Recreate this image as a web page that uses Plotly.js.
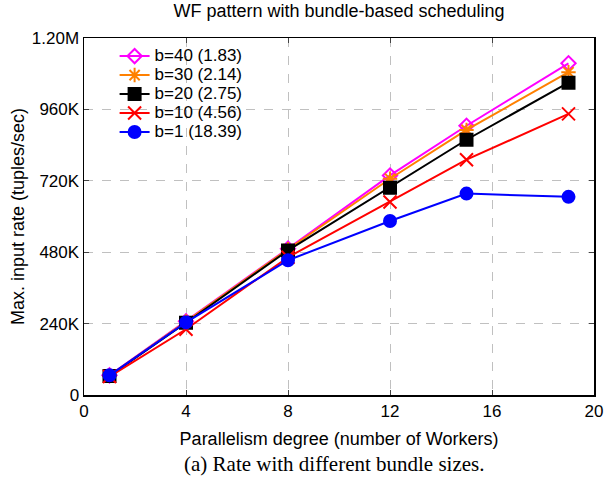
<!DOCTYPE html>
<html>
<head>
<meta charset="utf-8">
<script src="https://cdn.plot.ly/plotly-3.0.1.min.js"></script>
<style>
html,body{margin:0;padding:0;background:#fff;}
#chart{width:607px;height:485px;}
</style>
</head>
<body>
<div id="chart"></div>
<script>
// Data
const workers = [1, 4, 8, 12, 15, 19];
const seriesNames = ["b=40 (1.83)", "b=30 (2.14)", "b=20 (2.75)", "b=10 (4.56)", "b=1 (18.39)"];
const b40 = [66000, 248000, 492000, 738000, 905000, 1115000];
const b30 = [65000, 247000, 490000, 727000, 891000, 1085000];
const b20 = [64000, 243000, 486000, 697000, 858000, 1050000];
const b10 = [62000, 221000, 463000, 649000, 791000, 945000];
const b1  = [66000, 244000, 453000, 585000, 677000, 666000];
const yTickVals = [0, 240000, 480000, 720000, 960000, 1200000];
const yTickText = ["0", "240K", "480K", "720K", "960K", "1.20M"];
const xTickVals = [0, 4, 8, 12, 16, 20];

const seriesValues = [b40, b30, b20, b10, b1];
const colors = ["#ff00ff", "#ff8000", "#000000", "#ff0000", "#0000ff"];
const symbols = ["diamond-open", "asterisk-open", "square", "x-thin-open", "circle"];
const msizes = [11, 12, 12, 13, 12];

const traces = seriesValues.map((vals, i) => ({
  x: workers,
  y: vals,
  name: '<span style="font-size:17px">' + seriesNames[i] + '</span>',
  type: "scatter",
  mode: "lines+markers",
  line: {color: colors[i], width: 2},
  marker: {symbol: symbols[i], size: msizes[i], color: colors[i],
           line: {color: colors[i], width: 2}}
}));

const font = "Liberation Sans, Arial, sans-serif";
const layout = {
  width: 607, height: 485,
  margin: {l: 83.5, r: 13, t: 37.5, b: 90},
  paper_bgcolor: "#fff", plot_bgcolor: "#fff",
  font: {family: font, size: 17, color: "#000"},
  title: {text: "WF pattern with bundle-based scheduling", font: {family: font, size: 18},
          x: 0.5, xanchor: "center", y: 0.978, yanchor: "middle", xref: "paper"},
  xaxis: {
    range: [0, 20], tickvals: xTickVals, ticks: "inside", ticklen: 5, tickwidth: 1,
    showline: true, linecolor: "#000", linewidth: 1.5, mirror: "ticks",
    showgrid: true, gridcolor: "#c0c0c0", griddash: "dash", gridwidth: 1,
    zeroline: false, tickfont: {size: 17},
    title: {text: "Parallelism degree (number of Workers)", font: {size: 18}, standoff: 12}
  },
  yaxis: {
    range: [0, 1200000], tickvals: yTickVals, ticktext: yTickText, ticks: "inside", ticklen: 5, tickwidth: 1,
    showline: true, linecolor: "#000", linewidth: 1.5, mirror: "ticks",
    showgrid: true, gridcolor: "#c0c0c0", griddash: "dash", gridwidth: 1,
    zeroline: false, tickfont: {size: 17},
    title: {text: "Max. input rate (tuples/sec)", font: {size: 18}, standoff: 2}
  },
  legend: {
    x: 0.06, y: 0.99, xanchor: "left", yanchor: "top",
    bgcolor: "rgba(255,255,255,0)", borderwidth: 0,
    font: {size: 12}, tracegroupgap: 0
  },
  showlegend: true,
  annotations: [{
    text: "(a) Rate with different bundle sizes.",
    xref: "paper", yref: "paper", x: 0.5 - 5/510, y: -0.192, xanchor: "center", yanchor: "middle",
    showarrow: false, font: {family: "Liberation Serif, Times New Roman, serif", size: 21}
  }]
};

Plotly.newPlot("chart", traces, layout, {displayModeBar: false, staticPlot: true});
</script>
</body>
</html>
